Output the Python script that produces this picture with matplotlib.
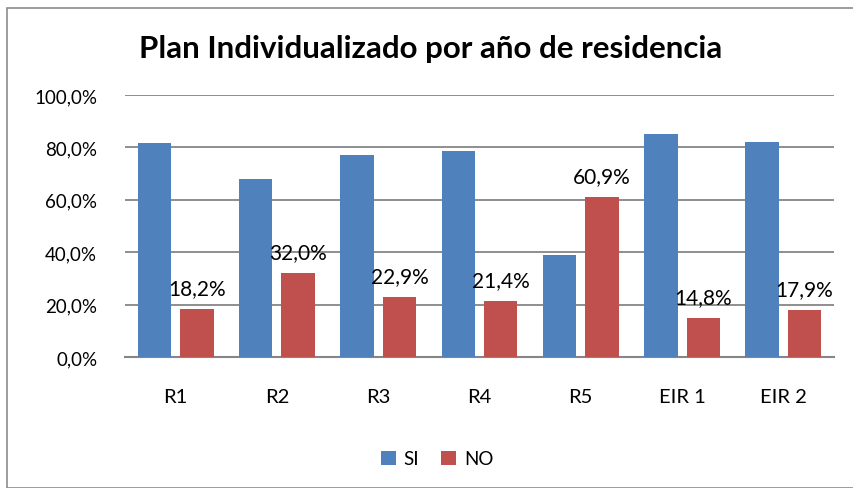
import matplotlib
matplotlib.use("Agg")
import matplotlib.pyplot as plt
from matplotlib.patches import Rectangle
import numpy as np

categories = ["R1", "R2", "R3", "R4", "R5", "EIR 1", "EIR 2"]
si_values = [81.8, 68.0, 77.1, 78.6, 39.1, 85.2, 82.1]
no_values = [18.2, 32.0, 22.9, 21.4, 60.9, 14.8, 17.9]
yticks = [0, 20, 40, 60, 80, 100]

plt.rcParams['font.family'] = ['Lato', 'DejaVu Sans']

W, H = 854, 489
fig = plt.figure(figsize=(W/100, H/100), dpi=100)
fig.patches.append(Rectangle((7/W, 0), 1.2, (H-9)/H, transform=fig.transFigure,
                             fill=False, edgecolor='#8c8c8c', linewidth=1.2))

ax = fig.add_axes([125/W, 1-358/H, (834-125)/W, (358-96)/H])
x = np.arange(len(categories))
bw = 0.33
off = 0.21
ax.bar(x - off, si_values, bw, color='#4F81BD', label='SI', zorder=3)
ax.bar(x + off, no_values, bw, color='#C0504D', label='NO', zorder=3)
for xi, v in zip(x, no_values):
    ax.annotate(f"{v:.1f}%".replace('.', ','), (xi + off, v), xytext=(0, 8),
                textcoords='offset points', ha='center', va='bottom', fontsize=15)

ax.set_xlim(-0.5, len(categories) - 0.5)
ax.set_ylim(0, 100)
ax.set_yticks(yticks)
ax.set_yticklabels([f"{t:.1f}%".replace('.', ',') for t in yticks], fontsize=13.5)
ax.set_xticks(x)
ax.set_xticklabels(categories, fontsize=14.5)
ax.tick_params(axis='both', length=0)
ax.tick_params(axis='x', pad=22)
ax.tick_params(axis='y', pad=20)
ax.grid(axis='y', color='#868686', linewidth=1.3, zorder=0)
for s in ['top', 'right', 'left']:
    ax.spines[s].set_visible(False)
ax.spines['bottom'].set_color('#868686')
ax.spines['bottom'].set_linewidth(1.5)

fig.text(431/W, 1-49/H, "Plan Individualizado por año de residencia", ha='center', va='center',
         fontsize=22.5, fontweight='bold')

handles, labels = ax.get_legend_handles_labels()
fig.legend(handles, labels, loc='center', bbox_to_anchor=(437/W, 1-460/H), ncol=2, frameon=False,
           fontsize=13.5, handlelength=0.8, handleheight=0.8, handletextpad=0.4, columnspacing=1.2)

fig.savefig("out.png", dpi=100)
